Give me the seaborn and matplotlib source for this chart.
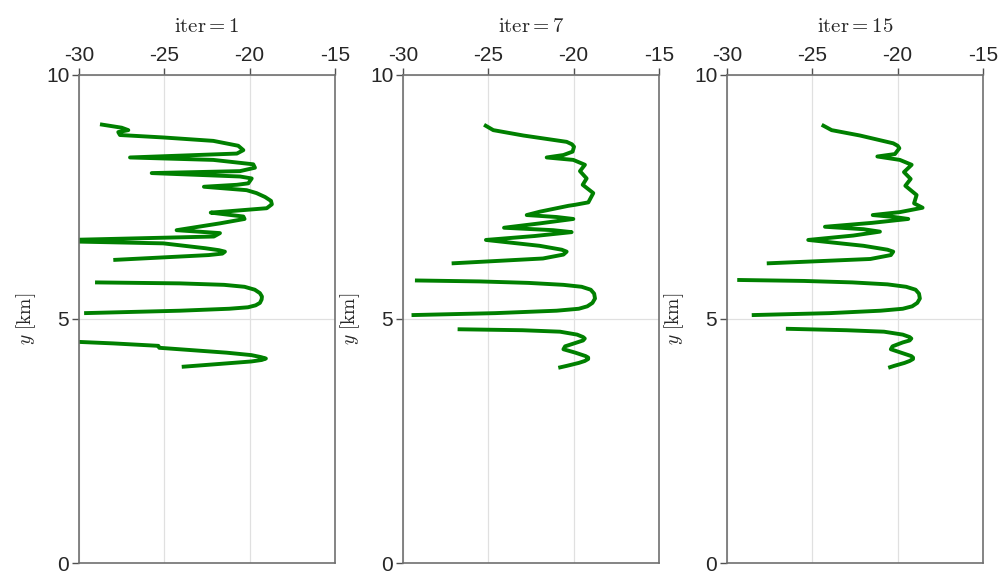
import matplotlib.pyplot as plt
import pandas as pd
import seaborn as sns

# ---- data (x value, y in km), three pieces per iteration
iters = [1, 7, 15]

y1a = [8.99, 8.92, 8.87, 8.83, 8.77, 8.72, 8.65, 8.55, 8.46, 8.39, 8.36, 8.31, 8.26, 8.17, 8.10, 8.03,
       7.99, 7.92, 7.88, 7.78, 7.75, 7.71, 7.64, 7.58, 7.50, 7.42, 7.35, 7.27, 7.21, 7.18, 7.10, 7.05,
       6.96, 6.82, 6.76, 6.69, 6.62, 6.59, 6.55, 6.45, 6.41, 6.38, 6.34, 6.31, 6.21]
x1a = [-28.77, -27.5, -27.11, -27.7, -27.6, -25.06, -22.13, -20.67, -20.37, -20.75, -23.1, -27.01, -22.13, -19.79, -19.69, -20.57,
       -25.74, -20.57, -19.88, -20.08, -20.75, -22.68, -20.18, -19.6, -19.1, -18.75, -18.7, -19.0, -21.15, -22.28, -20.37, -20.3,
       -21.74, -24.28, -21.74, -22.1, -30.6, -30.6, -25.06, -22.6, -21.8, -21.45, -21.6, -22.4, -27.99]
y1b = [5.75, 5.73, 5.70, 5.66, 5.60, 5.53, 5.46, 5.40, 5.33, 5.28, 5.24, 5.21, 5.17, 5.12]
x1b = [-29.06, -24.08, -21.5, -20.3, -19.7, -19.4, -19.28, -19.3, -19.4, -19.65, -20.1, -21.2, -24.08, -29.7]
y1c = [4.535, 4.50, 4.45, 4.41, 4.31, 4.26, 4.22, 4.19, 4.16, 4.13, 4.08, 4.02]
x1c = [-30.3, -27.99, -25.35, -25.3, -21.35, -19.9, -19.35, -19.05, -19.3, -19.9, -21.74, -23.98]

y7a = [8.98, 8.87, 8.76, 8.63, 8.58, 8.53, 8.43, 8.36, 8.31, 8.26, 8.16, 8.03, 7.88, 7.75, 7.58, 7.39,
       7.34, 7.32, 7.20, 7.13, 7.09, 7.05, 6.96, 6.87, 6.82, 6.78, 6.70, 6.62, 6.50, 6.42, 6.38, 6.32,
       6.24, 6.14]
x7a = [-25.25, -24.71, -22.95, -20.41, -20.1, -19.98, -20.06, -20.6, -21.58, -20.02, -19.34, -19.63, -19.24, -19.47, -18.85, -19.14,
       -19.92, -20.3, -21.97, -22.75, -21.0, -20.02, -21.97, -24.08, -21.2, -20.12, -22.3, -25.14, -22.0, -20.7, -20.41, -20.6,
       -21.8, -27.15]
y7b = [5.79, 5.77, 5.74, 5.70, 5.66, 5.60, 5.52, 5.42, 5.33, 5.26, 5.21, 5.17, 5.12, 5.08]
x7b = [-29.3, -25.5, -22.66, -20.6, -19.53, -19.0, -18.8, -18.75, -18.9, -19.2, -19.7, -21.0, -24.6, -29.5]
y7c = [4.79, 4.77, 4.74, 4.68, 4.63, 4.60, 4.56, 4.52, 4.44, 4.38, 4.31, 4.24, 4.21, 4.18, 4.14, 4.10, 4.04, 4.00]
x7c = [-26.8, -23.0, -20.8, -19.8, -19.45, -19.35, -19.45, -19.8, -20.5, -20.6, -19.9, -19.3, -19.15, -19.15, -19.35, -19.7, -20.4, -20.9]

y15a = [8.98, 8.87, 8.76, 8.60, 8.55, 8.50, 8.38, 8.33, 8.26, 8.16, 8.01, 7.87, 7.73, 7.54, 7.37, 7.28,
        7.19, 7.13, 7.09, 7.05, 6.97, 6.89, 6.84, 6.79, 6.71, 6.62, 6.50, 6.42, 6.38, 6.31, 6.23, 6.14]
x15a = [-24.45, -23.87, -22.21, -20.26, -20.0, -19.9, -20.16, -21.19, -19.87, -19.18, -19.63, -19.24, -19.55, -18.89, -19.04, -18.54,
        -19.87, -21.46, -20.2, -19.38, -21.5, -24.26, -22.0, -21.04, -22.6, -25.24, -22.0, -20.6, -20.26, -20.4, -21.6, -27.67]
y15b = [5.80, 5.78, 5.75, 5.71, 5.66, 5.60, 5.52, 5.42, 5.33, 5.26, 5.21, 5.17, 5.12, 5.08]
x15b = [-29.4, -25.5, -22.66, -20.6, -19.5, -18.95, -18.75, -18.7, -18.85, -19.15, -19.7, -21.0, -24.0, -28.55]
y15c = [4.80, 4.77, 4.74, 4.68, 4.63, 4.60, 4.56, 4.52, 4.44, 4.38, 4.31, 4.24, 4.21, 4.18, 4.14, 4.10, 4.04, 4.00]
x15c = [-26.55, -23.0, -20.8, -19.7, -19.3, -19.2, -19.3, -19.7, -20.3, -20.4, -19.8, -19.2, -19.1, -19.1, -19.3, -19.6, -20.2, -20.55]

xticks = [-30, -25, -20, -15]
yticks = [0, 5, 10]

pieces = {
    1: [(x1a, y1a), (x1b, y1b), (x1c, y1c)],
    7: [(x7a, y7a), (x7b, y7b), (x7c, y7c)],
    15: [(x15a, y15a), (x15b, y15b), (x15c, y15c)],
}
rows = []
for it in iters:
    for k, (xs, ys) in enumerate(pieces[it]):
        for xv, yv in zip(xs, ys):
            rows.append((it, k, xv, yv))
df = pd.DataFrame(rows, columns=["iter", "seg", "x", "y"])

sns.set_style("white")
plt.rcParams["font.family"] = ["Liberation Sans", "DejaVu Sans"]
plt.rcParams["mathtext.fontset"] = "cm"
plt.rcParams["axes.unicode_minus"] = False

fig, axes = plt.subplots(1, 3, figsize=(10, 5.8), dpi=100)
fig.subplots_adjust(left=0.079, right=0.983, bottom=0.0293, top=0.8707, wspace=0.2656)

for ax, it in zip(axes, iters):
    sub = df[df["iter"] == it]
    sns.lineplot(data=sub, x="x", y="y", units="seg", estimator=None, sort=False,
                 color="green", linewidth=2.8, ax=ax, legend=False)
    # rounder corners, closer to the smooth curves of the original
    for ln in ax.lines:
        ln.set_solid_joinstyle("round")
        ln.set_solid_capstyle("butt")
    ax.set_xlim(-30, -15)
    ax.set_ylim(0, 10)
    ax.set_xticks(xticks)
    ax.set_yticks(yticks)
    ax.xaxis.tick_top()
    ax.grid(True, color="#e0e0e0", linewidth=0.9)
    ax.set_axisbelow(True)
    for s in ax.spines.values():
        s.set_color("#707070")
        s.set_linewidth(1.2)
        s.set_visible(True)
    ax.tick_params(axis="both", which="major", labelsize=15, length=5, width=1,
                   color="#505050", direction="out", pad=2,
                   top=True, left=True, bottom=False, right=False)
    ax.set_xlabel("")
    ax.set_ylabel(r"$y\ [\mathrm{km}]$", fontsize=14, labelpad=6)
    ax.set_title(r"$\mathrm{iter} = %d$" % it, fontsize=15, pad=10)

fig.savefig("out.png", dpi=100)
